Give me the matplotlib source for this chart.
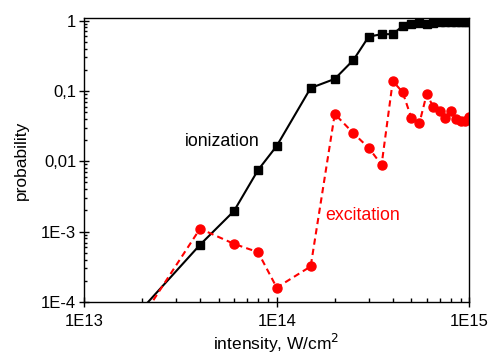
import matplotlib
matplotlib.use("Agg")
import matplotlib.pyplot as plt
from matplotlib.ticker import LogLocator, NullFormatter

plt.rcParams['font.family'] = ['Liberation Sans', 'DejaVu Sans']

intensity = [2e13, 4e13, 6e13, 8e13, 1e14, 1.5e14, 2e14, 2.5e14, 3e14, 3.5e14,
             4e14, 4.5e14, 5e14, 5.5e14, 6e14, 6.5e14, 7e14, 7.5e14, 8e14,
             8.5e14, 9e14, 9.5e14, 1e15]
ionization = [8e-5, 6.5e-4, 1.96e-3, 7.5e-3, 0.0165, 0.11, 0.148, 0.275, 0.59, 0.64,
              0.64, 0.835, 0.89, 0.92, 0.9, 0.92, 0.94, 0.94, 0.95,
              0.95, 0.95, 0.95, 0.95]
excitation = [6e-5, 1.1e-3, 6.7e-4, 5.1e-4, 1.6e-4, 3.2e-4, 0.047, 0.025, 0.0155, 0.0089,
              0.138, 0.096, 0.041, 0.035, 0.090, 0.059, 0.052, 0.041, 0.052,
              0.040, 0.037, 0.037, 0.043]

yticks = [1e-4, 1e-3, 1e-2, 1e-1, 1]
ytick_labels = ['1E-4', '1E-3', '0,01', '0,1', '1']
xticks = [1e13, 1e14, 1e15]
xtick_labels = ['1E13', '1E14', '1E15']

fig = plt.figure(figsize=(4.92, 3.54), dpi=100)
ax = fig.add_axes([0.1707, 0.147, 0.7835, 0.802])

ax.plot(intensity, ionization, color='black', lw=1.5, marker='s', ms=5.5)
ax.plot(intensity, excitation, color='#ff0000', lw=1.5, ls=(0, (3, 2)),
        marker='o', ms=6.5)

ax.set_xscale('log')
ax.set_yscale('log')
ax.set_xlim(1e13, 1e15)
ax.set_ylim(1e-4, 1.085)

ax.set_xticks(xticks, xtick_labels)
ax.set_yticks(yticks, ytick_labels)
ax.xaxis.set_minor_locator(LogLocator(base=10, subs=range(2, 10)))
ax.yaxis.set_minor_locator(LogLocator(base=10, subs=range(2, 10)))
ax.xaxis.set_minor_formatter(NullFormatter())
ax.yaxis.set_minor_formatter(NullFormatter())

ax.tick_params(which='major', direction='inout', length=7, width=1, labelsize=12,
               top=False, right=False)
ax.tick_params(axis='x', which='minor', direction='in', length=3, width=1, top=False)
ax.tick_params(axis='y', which='minor', direction='in', length=2, width=1, right=False)
ax.tick_params(axis='x', which='major', pad=5)
ax.tick_params(axis='y', which='major', pad=2)

for s in ax.spines.values():
    s.set_linewidth(1.0)
    s.set_color('black')

ax.set_xlabel('intensity, W/cm$^2$', fontsize=12.5, labelpad=2)
ax.set_ylabel('probability', fontsize=12.5, labelpad=9)

ax.text(3.34e13, 0.0194, 'ionization', fontsize=12.8, color='black', ha='left', va='center')
ax.text(1.78e14, 1.7e-3, 'excitation', fontsize=12.8, color='#ff0000', ha='left', va='center')

fig.savefig('out.png', dpi=100)
